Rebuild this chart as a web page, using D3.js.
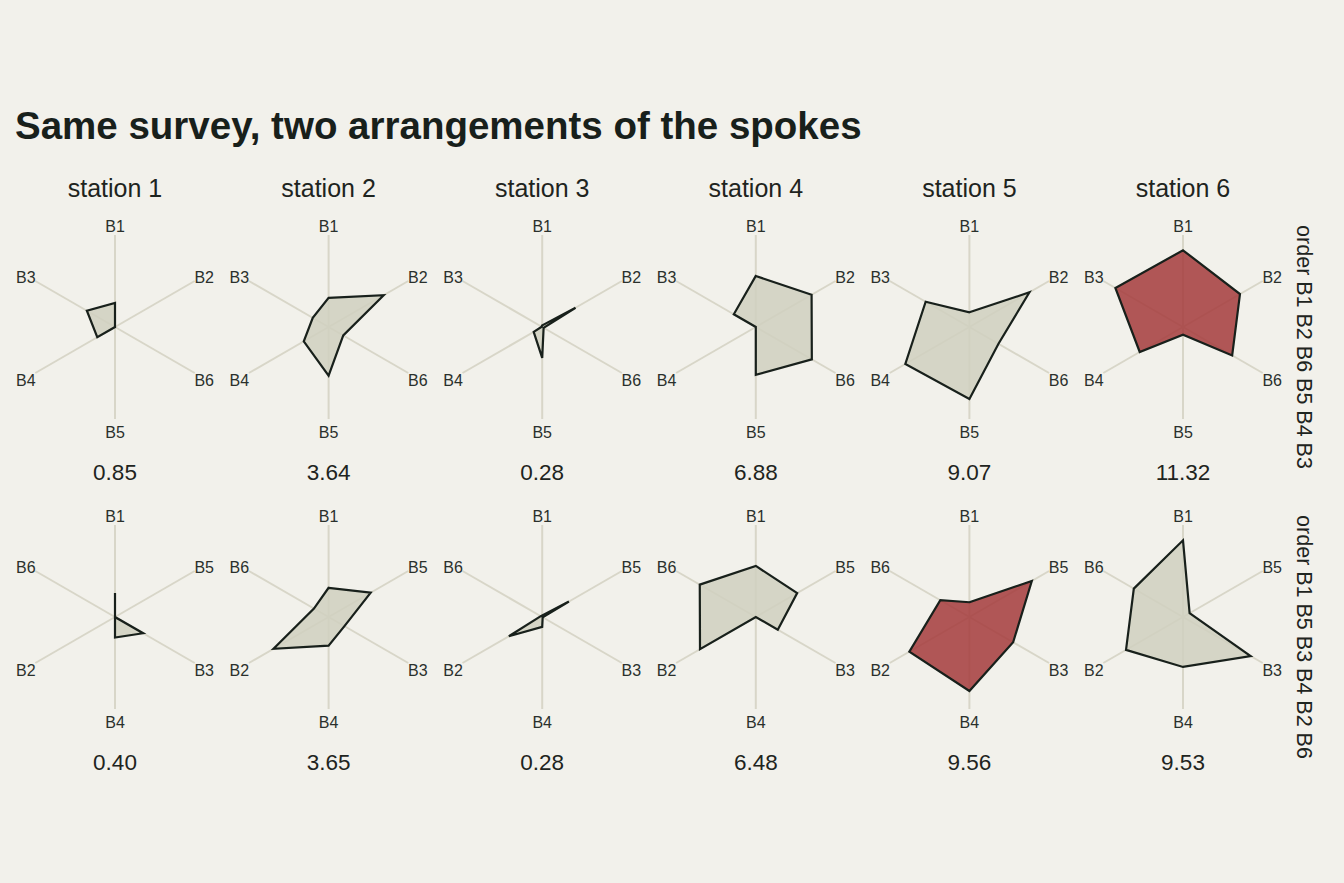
<!DOCTYPE html>
<html>
<head>
<meta charset="utf-8">
<script src="https://cdn.jsdelivr.net/npm/d3@7"></script>
<style>
  body { margin: 0; background: #f2f1eb; }
  text { font-family: "Liberation Sans", Arial, Helvetica, sans-serif; }
</style>
</head>
<body>
<div id="graph"></div>
<script>
// stations and spokes
var stations = ["station 1", "station 2", "station 3", "station 4", "station 5", "station 6"];
var bands = ["B1", "B2", "B3", "B4", "B5", "B6"];

// band values per station (B1..B6)
var station1 = [0.88, 0.00, 1.19, 0.75, 0.00, 0.00];
var station2 = [1.07, 2.33, 0.67, 1.05, 1.78, 0.62];
var station3 = [0.06, 1.41, 0.02, 0.36, 1.13, 0.06];
var station4 = [1.87, 2.36, 0.93, 0.00, 1.75, 2.37];
var station5 = [0.54, 2.54, 1.85, 2.71, 2.64, 1.23];
var station6 = [2.81, 2.41, 2.86, 1.83, 0.28, 2.08];

// the two spoke arrangements
var orderTop = ["B1", "B2", "B6", "B5", "B4", "B3"];
var orderBottom = ["B1", "B5", "B3", "B4", "B2", "B6"];

// polygon area printed under each panel
var areaTop = [0.85, 3.64, 0.28, 6.88, 9.07, 11.32];
var areaBottom = [0.40, 3.65, 0.28, 6.48, 9.56, 9.53];

window.onload = start;

function start() {
    var width = 1344;
    var height = 883;

    var values = [station1, station2, station3, station4, station5, station6];
    var rows = [
        {order: orderTop, areas: areaTop},
        {order: orderBottom, areas: areaBottom}
    ];

    var svg = d3.select("#graph")
        .append("svg")
        .attr("width", width)
        .attr("height", height);

    svg.append("rect")
        .attr("width", width)
        .attr("height", height)
        .attr("fill", "#f2f1eb");

    svg.append("text")
        .attr("x", 15)
        .attr("y", 139)
        .attr("font-size", 38.5)
        .attr("font-weight", "bold")
        .attr("fill", "#18201b")
        .text("Same survey, two arrangements of the spokes");

    var x = d3.scalePoint().domain(stations).range([115, 1183]);
    var y = d3.scalePoint().domain([0, 1]).range([327, 617]);
    var r = d3.scaleLinear().domain([0, 3.37]).range([0, 92]);

    var step = Math.PI / 3;

    // station headers
    svg.selectAll(".strip")
        .data(stations)
        .enter()
        .append("text")
        .attr("x", function(d) { return x(d); })
        .attr("y", 188)
        .attr("text-anchor", "middle")
        .attr("dominant-baseline", "central")
        .attr("font-size", 25)
        .attr("fill", "#1e2420")
        .text(function(d) { return d; });

    rows.forEach(function(row, ri) {
        var cy = y(ri);
        var maxArea = d3.max(row.areas);

        // row label on the right
        svg.append("text")
            .attr("transform", "translate(1304," + (cy + 20) + ") rotate(90)")
            .attr("text-anchor", "middle")
            .attr("dominant-baseline", "central")
            .attr("font-size", 21.5)
            .attr("fill", "#1e2420")
            .text("order " + row.order.join(" "));

        stations.forEach(function(st, si) {
            var g = svg.append("g")
                .attr("transform", "translate(" + x(st) + "," + cy + ")");

            // spokes
            g.selectAll("line")
                .data(row.order)
                .enter()
                .append("line")
                .attr("x1", 0)
                .attr("y1", 0)
                .attr("x2", function(d, i) { return r(3.37) * Math.sin(i * step); })
                .attr("y2", function(d, i) { return -r(3.37) * Math.cos(i * step); })
                .attr("stroke", "#d8d6c8")
                .attr("stroke-width", 2);

            g.selectAll(".lab")
                .data(row.order)
                .enter()
                .append("text")
                .attr("x", function(d, i) { return 103 * Math.sin(i * step); })
                .attr("y", function(d, i) { return -103 * Math.cos(i * step) + 2; })
                .attr("text-anchor", "middle")
                .attr("dominant-baseline", "central")
                .attr("font-size", 16)
                .attr("fill", "#2a302c")
                .text(function(d) { return d; });

            var pts = row.order.map(function(b) { return values[si][bands.indexOf(b)]; });

            var radar = d3.lineRadial()
                .angle(function(d, i) { return i * step; })
                .radius(function(d) { return r(d); })
                .curve(d3.curveLinearClosed);

            var hot = row.areas[si] === maxArea;
            g.append("path")
                .attr("d", radar(pts))
                .attr("fill", hot ? "#a43b3c" : "#d0d0bf")
                .attr("fill-opacity", 0.85)
                .attr("stroke", "#18201b")
                .attr("stroke-width", 2.2)
                .attr("stroke-linejoin", "miter");

            g.append("text")
                .attr("x", 0)
                .attr("y", 145)
                .attr("text-anchor", "middle")
                .attr("dominant-baseline", "central")
                .attr("font-size", 22.5)
                .attr("fill", "#1e2420")
                .text(row.areas[si].toFixed(2));
        });
    });
}
</script>
</body>
</html>
